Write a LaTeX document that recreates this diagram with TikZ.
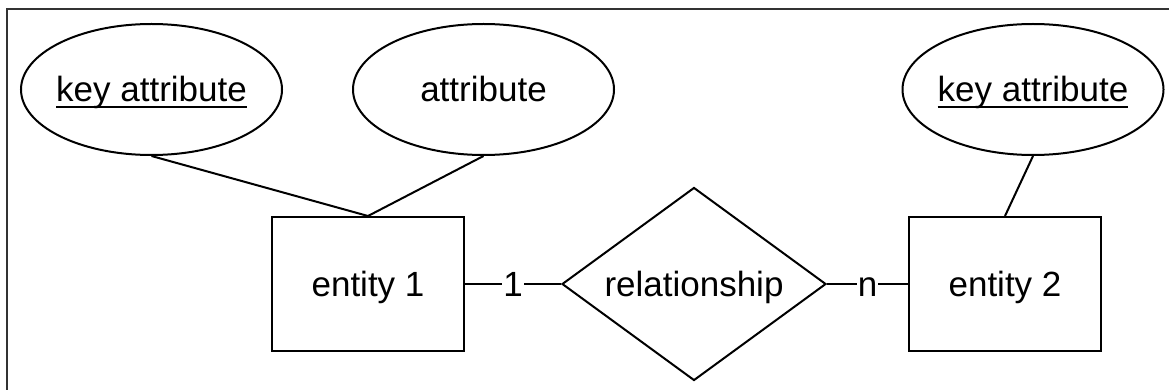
\documentclass[tikz,border=0pt]{standalone}
\usepackage{fontspec}
\setmainfont{Liberation Sans}
\usetikzlibrary{shapes.geometric}

% underlined label for key attributes
\newcommand\keyattr[1]{\setbox0\hbox{#1}\rlap{\raisebox{-6.5pt}{\rule{\wd0}{2.2pt}}}\box0}
% zero-width label so the shape size comes from the minimum size only
\newcommand\zw[1]{\makebox[0pt]{#1}}

\begin{document}
\begin{tikzpicture}[x=1pt,y=-1pt,
  every node/.style={font=\fontsize{35}{42}\selectfont, text height=25pt,
    text depth=0pt, inner sep=0pt, line width=2pt},
  attr/.style={ellipse, draw, minimum width=261pt, minimum height=131pt},
  entity/.style={rectangle, draw, minimum width=192pt, minimum height=134pt},
  rel/.style={diamond, draw, shape aspect=1.37, minimum width=264pt, minimum height=193pt},
  card/.style={fill=white, inner xsep=1pt},
  link/.style={line width=2pt},
  frame/.style={line width=2pt, black!80}]

\useasboundingbox (0,0) rectangle (1169,390);

% outer frame (only its top and left edges lie inside the page)
\draw[frame] (7,392) -- (7,9) -- (1171,9);

% attributes
\node[attr] (ka1) at (151.5,89.5) {\zw{\keyattr{key attribute}}};
\node[attr] (at1) at (483.5,89.5) {\zw{attribute}};
\node[attr] (ka2) at (1033,89.5)  {\zw{\keyattr{key attribute}}};

% entities and relationship
\node[entity] (e1) at (368,284)  {entity 1};
\node[rel]    (r)  at (694,284)  {relationship};
\node[entity] (e2) at (1005,284) {entity 2};

% attribute links
\draw[link] (ka1.south) -- (e1.north);
\draw[link] (at1.south) -- (e1.north);
\draw[link] (ka2.south) -- (e2.north);

% relationship links with cardinalities
\draw[link] (e1.east) -- node[card] (c1) {1} (r.west);
\draw[link] (r.east) -- node[card] (cn) {n} (e2.west);

\end{tikzpicture}
\end{document}
